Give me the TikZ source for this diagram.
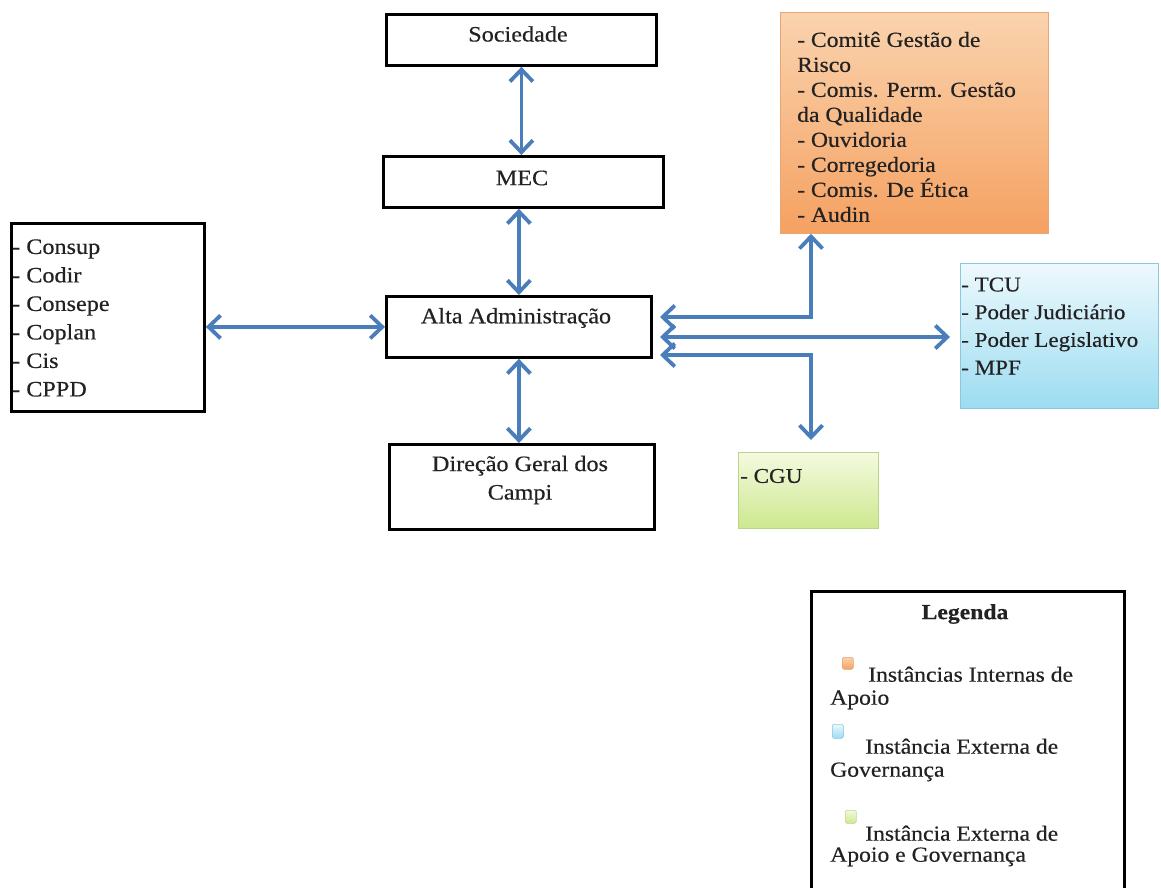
\documentclass[tikz,border=0pt]{standalone}
\usepackage{fontspec}
\setmainfont{Liberation Serif}[FakeStretch=1.1, FakeBold=0.4]
\usetikzlibrary{arrows.meta}
\definecolor{arrblue}{HTML}{4A7EBB}
\definecolor{txtc}{HTML}{222222}
\definecolor{orgtop}{HTML}{FAD3AE}
\definecolor{orgbot}{HTML}{F5A161}
\definecolor{orgdraw}{HTML}{E6A676}
\definecolor{blutop}{HTML}{EDF9FD}
\definecolor{blubot}{HTML}{9CDCF1}
\definecolor{bludraw}{HTML}{8CC8DC}
\definecolor{grntop}{HTML}{F4FADF}
\definecolor{grnbot}{HTML}{CDE88F}
\definecolor{grndraw}{HTML}{B9D58A}
\tikzset{
  bbox/.style={draw=black, line width=2.8pt, anchor=north west, inner sep=0pt, fill=white},
  cbox/.style={draw=#1draw, line width=0.8pt, anchor=north west, inner sep=0pt, top color=#1top, bottom color=#1bot},
  txt/.style={text=txtc, inner sep=0pt, font=\fontsize{22}{28.5}\selectfont},
  ltxt/.style={txt, anchor=west, align=left},
  legtxt/.style={ltxt, font=\fontsize{21.5}{#1}\selectfont},
  arr/.style={draw=arrblue, line width=3.8pt, {Straight Barb[length=12pt,width=23pt]}-{Straight Barb[length=12pt,width=23pt]}},
  legsq/.style={draw=#1draw, line width=0.5pt, rounded corners=1.5pt, top color=#1top, bottom color=#1bot, anchor=north west, inner sep=0pt},
}
\begin{document}
\begin{tikzpicture}[x=1pt,y=-1pt]
\useasboundingbox[fill=white] (0,0) rectangle (1161,888);
% boxes
\node[bbox, minimum width=270pt, minimum height=51pt] (soc) at (385,13) {};
\node[bbox, minimum width=280pt, minimum height=51pt] (mec) at (382,155) {};
\node[bbox, minimum width=265pt, minimum height=61pt] (alta) at (385,295) {};
\node[bbox, minimum width=265pt, minimum height=85pt] (dir) at (388,443) {};
\node[bbox, minimum width=193pt, minimum height=188pt] (esq) at (10,222) {};
\node[cbox=org, minimum width=268pt, minimum height=221pt] (org) at (780,12) {};
\node[cbox=blu, minimum width=198pt, minimum height=145pt] (blu) at (960,263) {};
\node[cbox=grn, minimum width=140pt, minimum height=76pt] (cgu) at (738,452) {};
% texts
\node[txt] (soct) at (518,34) {Sociedade};
\node[txt] (mect) at (522,178) {MEC};
\node[txt] (altat) at (516,318) {Alta Administração};
\node[txt, align=center] (dirt) at (520,480) {Direção Geral dos\\Campi};
\node[ltxt] (esqt) at (12,318) {- Consup\\- Codir\\- Consepe\\- Coplan\\- Cis\\- CPPD};
\node[ltxt, font=\fontsize{21.5}{25}\selectfont] (orgt) at (797,127) {- Comitê Gestão de\\Risco\\- Comis. Perm. Gestão\\da Qualidade\\- Ouvidoria\\- Corregedoria\\- Comis. De Ética\\- Audin};
\node[ltxt, font=\fontsize{21}{27.7}\selectfont] (blut) at (961,326) {- TCU\\- Poder Judiciário\\- Poder Legislativo\\- MPF};
\node[ltxt, font=\fontsize{21}{27.7}\selectfont] (cgut) at (740,476) {- CGU};
% connectors
\draw[arr] (soc.south) -- (soc.south |- mec.north);
\draw[arr] (alta.north) -- (alta.north |- mec.south);
\draw[arr] (alta.south) -- (alta.south |- dir.north);
\draw[arr] (esq.east |- alta.west) -- (alta.west);
\coordinate (a1) at (660,317);
\coordinate (k1) at (811,317);
\coordinate (a2) at (660,337);
\coordinate (a3) at (660,355);
\coordinate (k3) at (811,355);
\draw[arr] (a1) -- (k1) -- (k1 |- org.south);
\draw[arr, shorten >=10pt] (a2) -- (a2 -| blu.west);
\draw[arr, shorten >=12pt] (a3) -- (k3) -- (k3 |- cgu.north);
% legend
\begin{scope}
\clip (0,0) rectangle (1161,888);
\node[bbox, minimum width=313pt, minimum height=330pt] (leg) at (810,590) {};
\end{scope}
\node[txt, font=\fontsize{21.5}{24}\selectfont\bfseries] (legt) at (965,614) {Legenda};
\node[legsq=org, minimum width=11pt, minimum height=12pt] (sq1) at (842,657) {};
\node[legtxt=23] (l1) at (830,688) {\hspace*{38pt}Instâncias Internas de\\Apoio};
\node[legsq=blu, minimum width=11pt, minimum height=14pt] (sq2) at (832,724) {};
\node[legtxt=23] (l2) at (830,760) {\hspace*{35pt}Instância Externa de\\Governança};
\node[legsq=grn, minimum width=11pt, minimum height=13pt] (sq3) at (845,810) {};
\node[legtxt=21] (l3) at (830,846) {\hspace*{35pt}Instância Externa de\\Apoio e Governança};
\end{tikzpicture}
\end{document}
